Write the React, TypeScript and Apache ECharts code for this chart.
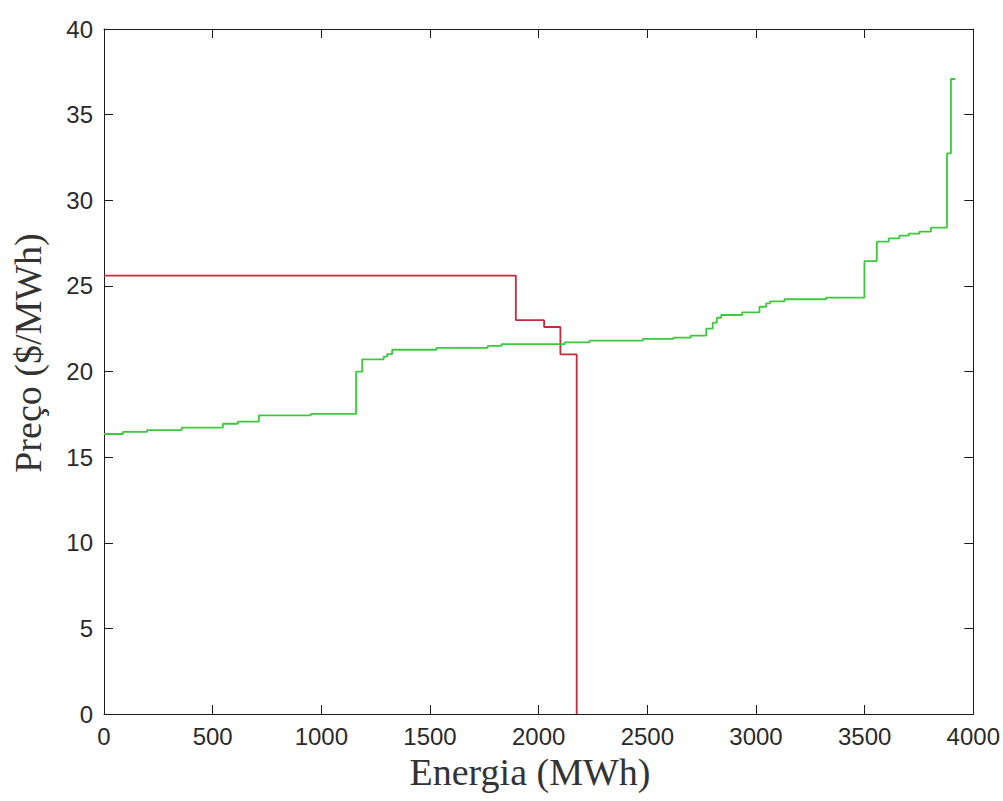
import React, { useEffect, useRef } from "react";
import * as echarts from "echarts";

// Supply curve (green): step starts at x, holds y until next x
const supplyX = [0, 87, 198, 358, 547, 616, 713, 952, 1160, 1188, 1287, 1303, 1326, 1530, 1766, 1830, 2120, 2234, 2480, 2620, 2700, 2771, 2801, 2820, 2840, 2936, 3016, 3047, 3065, 3131, 3322, 3499, 3556, 3611, 3660, 3703, 3752, 3805, 3879, 3897, 3917];
const supplyY = [16.35, 16.47, 16.58, 16.72, 16.95, 17.07, 17.44, 17.52, 19.99, 20.71, 20.87, 21.02, 21.27, 21.38, 21.5, 21.6, 21.7, 21.8, 21.9, 21.98, 22.1, 22.5, 22.85, 23.14, 23.3, 23.45, 23.78, 23.98, 24.1, 24.22, 24.31, 26.45, 27.58, 27.77, 27.93, 28.05, 28.17, 28.4, 32.74, 37.08, 37.08];

// Demand curve (red)
const demandX = [0, 1895, 2025, 2100, 2175];
const demandY = [25.6, 23.0, 22.6, 21.0, 0];

const xTicks = [0, 500, 1000, 1500, 2000, 2500, 3000, 3500, 4000];
const yTicks = [0, 5, 10, 15, 20, 25, 30, 35, 40];

const xTitle = "Energia (MWh)";
const yTitle = "Preço ($/MWh)";

function stepPoints(xs: number[], ys: number[]): number[][] {
  const pts: number[][] = [];
  for (let i = 0; i < xs.length; i++) {
    pts.push([xs[i], ys[i]]);
    if (i < xs.length - 1) pts.push([xs[i + 1], ys[i]]);
  }
  return pts;
}

export default function App() {
  const ref = useRef<HTMLDivElement>(null);
  useEffect(() => {
    if (!ref.current) return;
    const chart = echarts.init(ref.current, null, { renderer: "svg" });
    const axisColor = "#1a1a1a";
    const xMin = xTicks[0];
    const xMax = xTicks[xTicks.length - 1];
    const yMin = yTicks[0];
    const yMax = yTicks[yTicks.length - 1];
    const baseAxis = {
      type: "value" as const,
      axisLine: { show: true, onZero: false, lineStyle: { color: axisColor, width: 1 } },
      axisTick: { show: true, inside: true, length: 9, lineStyle: { color: axisColor, width: 1 } },
      splitLine: { show: false },
    };
    const labelStyle = {
      color: "#2a2a2a",
      fontFamily: "Liberation Sans, Arial, sans-serif",
      fontSize: 24,
      formatter: (v: number) => String(v),
    };
    chart.setOption({
      animation: false,
      backgroundColor: "#ffffff",
      grid: { left: 104, top: 29, right: 29, bottom: 87, containLabel: false },
      xAxis: [
        {
          ...baseAxis,
          position: "bottom",
          min: xMin,
          max: xMax,
          interval: 500,
          axisLabel: { ...labelStyle, margin: 10 },
        },
        {
          ...baseAxis,
          position: "top",
          min: xMin,
          max: xMax,
          interval: 500,
          axisLabel: { show: false },
        },
      ],
      yAxis: [
        {
          ...baseAxis,
          position: "left",
          min: yMin,
          max: yMax,
          interval: 5,
          axisLabel: { ...labelStyle, margin: 11 },
        },
        {
          ...baseAxis,
          position: "right",
          min: yMin,
          max: yMax,
          interval: 5,
          axisLabel: { show: false },
        },
      ],
      series: [
        {
          type: "line",
          name: "Demanda",
          data: stepPoints(demandX, demandY),
          showSymbol: false,
          symbol: "none",
          lineStyle: { color: "#c92a3a", width: 1.8 },
          z: 3,
        },
        {
          type: "line",
          name: "Oferta",
          data: stepPoints(supplyX, supplyY),
          showSymbol: false,
          symbol: "none",
          lineStyle: { color: "#3ec83e", width: 1.8 },
          z: 4,
        },
      ],
      graphic: [
        {
          type: "text",
          x: 530,
          y: 772,
          style: {
            text: xTitle,
            fontFamily: "Liberation Serif, Times New Roman, serif",
            fontSize: 38,
            fill: "#333",
            textAlign: "center",
            textVerticalAlign: "middle",
          },
        },
        {
          type: "text",
          x: 28,
          y: 353,
          rotation: Math.PI / 2,
          style: {
            text: yTitle,
            fontFamily: "Liberation Serif, Times New Roman, serif",
            fontSize: 38,
            fill: "#333",
            textAlign: "center",
            textVerticalAlign: "middle",
          },
        },
      ],
    });
    return () => chart.dispose();
  }, []);
  return (
    <div
      ref={ref}
      style={{ position: "fixed", left: 0, top: 0, width: 1003, height: 801, background: "#fff" }}
    />
  );
}
